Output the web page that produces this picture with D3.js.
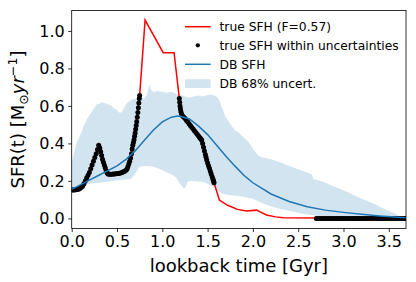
<!DOCTYPE html>
<html><head><meta charset="utf-8">
<script src="https://cdn.jsdelivr.net/npm/d3@7"></script>
<style>body{margin:0;background:#fff}svg{display:block}text{font-family:"DejaVu Sans",sans-serif}</style>
</head><body><svg id="c" width="416" height="282"></svg>
<script>
// ---- data ----
const xTicks = [0.0, 0.5, 1.0, 1.5, 2.0, 2.5, 3.0, 3.5];
const yTicks = [0.0, 0.2, 0.4, 0.6, 0.8, 1.0];
const legendLabels = ["true SFH (F=0.57)", "true SFH within uncertainties", "DB SFH", "DB 68% uncert."];

// true SFH (red)
const trueSFH = [[0,0.152],[0.1,0.163],[0.2,0.25],[0.298,0.39],[0.40,0.237],[0.55,0.244],[0.61,0.262],[0.66,0.345],[0.75,0.655],[0.81,1.058],[1.01,0.884],[1.13,0.884],[1.188,0.64],[1.205,0.57],[1.222,0.548],[1.25,0.534],[1.435,0.418],[1.49,0.311],[1.571,0.19],[1.63,0.098],[1.72,0.07],[1.83,0.048],[1.93,0.04],[2.04,0.044],[2.08,0.035],[2.15,0.018],[2.25,0.008],[2.335,0.003],[3.69,0.0]];

// true SFH points within uncertainties (black dots)
const dotsEarly = [[0,0.152],[0.015,0.152],[0.03,0.152],[0.045,0.153],[0.06,0.154],[0.075,0.156],[0.09,0.16],[0.105,0.165],
 [0.12,0.172],[0.135,0.185],[0.15,0.2],[0.165,0.215],[0.18,0.23],[0.195,0.245],[0.21,0.265],[0.225,0.285],[0.24,0.305],[0.255,0.325],[0.27,0.345],[0.285,0.368],[0.298,0.39],
 [0.31,0.375],[0.32,0.355],[0.33,0.335],[0.34,0.315],[0.35,0.3],[0.36,0.285],[0.37,0.27],[0.38,0.255],[0.39,0.243],[0.40,0.237],
 [0.415,0.236],[0.43,0.236],[0.445,0.236],[0.46,0.237],[0.475,0.237],[0.49,0.238],[0.505,0.239],[0.52,0.24],[0.535,0.242],[0.55,0.244],[0.565,0.247],[0.58,0.25],[0.595,0.255],[0.61,0.262],
 [0.62,0.275],[0.63,0.29],[0.64,0.305],[0.65,0.322],[0.66,0.345],[0.667,0.37],[0.674,0.39],[0.681,0.405],[0.688,0.42],[0.694,0.438],[0.70,0.455],[0.706,0.475],[0.712,0.495],[0.718,0.515],[0.724,0.54],[0.73,0.565],[0.736,0.59],[0.741,0.615],[0.746,0.64],[0.75,0.655]];
const dotsMid = [[1.188,0.64],[1.192,0.62],[1.196,0.60],[1.2,0.585],[1.205,0.57],[1.212,0.558],[1.222,0.548],[1.235,0.541],[1.25,0.534],[1.265,0.524],[1.28,0.515],[1.295,0.505],[1.31,0.496],[1.325,0.486],[1.34,0.477],[1.355,0.467],[1.37,0.458],[1.385,0.449],[1.4,0.44],[1.41,0.433],[1.42,0.427],[1.428,0.422],[1.435,0.418],[1.445,0.40],[1.455,0.38],[1.465,0.36],[1.475,0.341],[1.483,0.326],[1.49,0.311],[1.5,0.296],[1.51,0.281],[1.52,0.267],[1.53,0.252],[1.54,0.237],[1.55,0.222],[1.557,0.212],[1.563,0.204],[1.567,0.197],[1.571,0.19]];
const dotsLate = [[2.70,0],[2.72,0],[2.74,0],[2.76,0],[2.78,0],[2.80,0],[2.82,0],[2.84,0],[2.86,0],[2.88,0],[2.90,0],[2.92,0],[2.94,0],[2.96,0],[2.98,0],[3.00,0],[3.02,0],[3.04,0],[3.06,0],[3.08,0],[3.10,0],[3.12,0],[3.14,0],[3.16,0],[3.18,0],[3.20,0],[3.22,0],[3.24,0],[3.26,0],[3.28,0],[3.30,0],[3.32,0],[3.34,0],[3.36,0],[3.38,0],[3.40,0],[3.42,0],[3.44,0],[3.46,0],[3.48,0],[3.50,0],[3.52,0],[3.54,0],[3.56,0],[3.58,0],[3.60,0],[3.62,0],[3.64,0],[3.66,0],[3.68,0]];

// DB SFH (blue)
const dbSFH = [[0,0.155],[0.1,0.18],[0.2,0.205],[0.3,0.23],[0.4,0.255],[0.5,0.28],[0.6,0.315],[0.7,0.36],[0.8,0.415],[0.9,0.47],[1.0,0.515],[1.1,0.54],[1.17,0.546],[1.2,0.545],[1.3,0.53],[1.4,0.492],[1.5,0.447],[1.6,0.39],[1.7,0.333],[1.8,0.28],[1.9,0.23],[2.0,0.19],[2.2,0.13],[2.4,0.09],[2.6,0.062],[2.8,0.044],[3.0,0.032],[3.2,0.022],[3.4,0.013],[3.69,0.003]];

// DB 68% band
const bandUpper = [[0,0.30],[0.03,0.36],[0.06,0.41],[0.1,0.45],[0.13,0.49],[0.17,0.53],[0.21,0.56],[0.25,0.59],[0.28,0.61],[0.3,0.61],[0.33,0.62],[0.36,0.615],[0.4,0.61],[0.44,0.60],[0.47,0.585],[0.5,0.58],[0.52,0.565],[0.55,0.565],[0.58,0.59],[0.61,0.615],[0.64,0.625],[0.67,0.635],[0.72,0.64],[0.76,0.645],[0.8,0.64],[0.83,0.66],[0.85,0.70],[0.86,0.715],[0.87,0.69],[0.9,0.675],[0.95,0.68],[1.0,0.675],[1.05,0.67],[1.1,0.675],[1.15,0.665],[1.2,0.66],[1.25,0.65],[1.3,0.645],[1.35,0.65],[1.4,0.655],[1.45,0.65],[1.5,0.66],[1.55,0.66],[1.6,0.65],[1.63,0.63],[1.66,0.59],[1.7,0.54],[1.75,0.505],[1.8,0.47],[1.85,0.455],[1.9,0.43],[1.95,0.41],[2.0,0.37],[2.05,0.34],[2.1,0.325],[2.2,0.315],[2.3,0.30],[2.4,0.28],[2.5,0.262],[2.6,0.245],[2.65,0.235],[2.67,0.21],[2.75,0.2],[2.85,0.18],[2.95,0.16],[3.05,0.14],[3.15,0.115],[3.25,0.095],[3.35,0.075],[3.45,0.05],[3.55,0.03],[3.62,0.01],[3.69,0.0]];
const bandLower = [[0,0.15],[0.05,0.165],[0.1,0.175],[0.15,0.18],[0.2,0.185],[0.3,0.19],[0.4,0.195],[0.5,0.203],[0.6,0.207],[0.65,0.21],[0.68,0.225],[0.71,0.245],[0.74,0.27],[0.78,0.28],[0.84,0.28],[0.9,0.275],[0.95,0.268],[1.0,0.258],[1.05,0.245],[1.1,0.235],[1.15,0.22],[1.18,0.195],[1.21,0.175],[1.24,0.158],[1.26,0.17],[1.28,0.195],[1.32,0.2],[1.4,0.197],[1.48,0.19],[1.55,0.172],[1.6,0.15],[1.65,0.135],[1.7,0.128],[1.78,0.122],[1.86,0.118],[1.93,0.112],[2.0,0.105],[2.06,0.092],[2.12,0.078],[2.2,0.065],[2.3,0.05],[2.37,0.044],[2.45,0.035],[2.55,0.025],[2.65,0.018],[2.75,0.01],[2.9,0.004],[3.1,0.001],[3.69,0.0]];

// ---- layout ----
const L = 71.7, R = 406, T = 10.5, B = 228.5;
const x = d3.scaleLinear().domain([0, 3.69]).range([L, R]);
const y = d3.scaleLinear().domain([-0.054, 1.109]).range([B, T]);
const svg = d3.select("#c");
const blue = "#1f77b4";

svg.append("defs").append("clipPath").attr("id","clip").append("rect")
  .attr("x", L).attr("y", T).attr("width", R - L).attr("height", B - T);
const g = svg.append("g").attr("clip-path", "url(#clip)");
const line = d3.line().x(d => x(d[0])).y(d => y(d[1]));

g.append("path").attr("d", line(bandUpper.concat(bandLower.slice().reverse())) + "Z")
  .attr("fill", blue).attr("fill-opacity", 0.2);
g.append("path").attr("d", line(trueSFH)).attr("fill","none").attr("stroke","#ff0000").attr("stroke-width",1.5);
g.selectAll("circle.d").data(dotsEarly.concat(dotsMid, dotsLate)).join("circle")
  .attr("cx", d => x(d[0])).attr("cy", d => y(d[1])).attr("r", 2.5).attr("fill","#000");
g.append("path").attr("d", line(dbSFH)).attr("fill","none").attr("stroke",blue).attr("stroke-width",1.5);

// axes
const xa = svg.append("g").attr("transform", `translate(0,${B})`)
  .call(d3.axisBottom(x).tickValues(xTicks).tickFormat(d3.format(".1f")).tickSize(3.5).tickPadding(3.5));
const ya = svg.append("g").attr("transform", `translate(${L},0)`)
  .call(d3.axisLeft(y).tickValues(yTicks).tickFormat(d3.format(".1f")).tickSize(3.5).tickPadding(3.5));
[xa, ya].forEach(a => {
  a.select(".domain").remove();
  a.selectAll("line").attr("stroke","#000").attr("stroke-width",0.8);
  a.selectAll("text").attr("font-size",16).attr("fill","#000").attr("font-family","DejaVu Sans");
});
svg.append("rect").attr("x",L).attr("y",T).attr("width",R-L).attr("height",B-T)
  .attr("fill","none").attr("stroke","#000").attr("stroke-width",0.8);

// axis labels
svg.append("text").attr("x",(L+R)/2).attr("y",272).attr("text-anchor","middle")
  .attr("font-size",18).text("lookback time [Gyr]");
const yl = svg.append("text").attr("transform",`translate(24,${(T+B)/2}) rotate(-90)`)
  .attr("text-anchor","middle").attr("font-size",18);
yl.append("tspan").text("SFR(t) [M");
yl.append("tspan").attr("font-size",12.6).attr("dy",3.5).text("\u2299");
yl.append("tspan").attr("dy",-3.5).attr("font-style","italic").text("yr");
yl.append("tspan").attr("font-size",12.6).attr("dy",-7).text("\u22121");
yl.append("tspan").attr("dy",7).text("]");

// legend
const lg = svg.append("g");
const lx0 = 185, lx1 = 210.7, tx = 219.5, rows = [26.7, 45.3, 64.3, 83.6];
lg.append("line").attr("x1",lx0).attr("x2",lx1).attr("y1",rows[0]).attr("y2",rows[0]).attr("stroke","#ff0000").attr("stroke-width",1.5);
lg.append("circle").attr("cx",(lx0+lx1)/2).attr("cy",rows[1]).attr("r",2.1).attr("fill","#000");
lg.append("line").attr("x1",lx0).attr("x2",lx1).attr("y1",rows[2]).attr("y2",rows[2]).attr("stroke",blue).attr("stroke-width",1.5);
lg.append("rect").attr("x",lx0).attr("y",rows[3]-4.4).attr("width",lx1-lx0).attr("height",8.8).attr("fill",blue).attr("fill-opacity",0.2);
legendLabels.forEach((s,i) => lg.append("text").attr("x",tx).attr("y",rows[i]+4.4).attr("font-size",12.3).text(s));
</script></body></html>
